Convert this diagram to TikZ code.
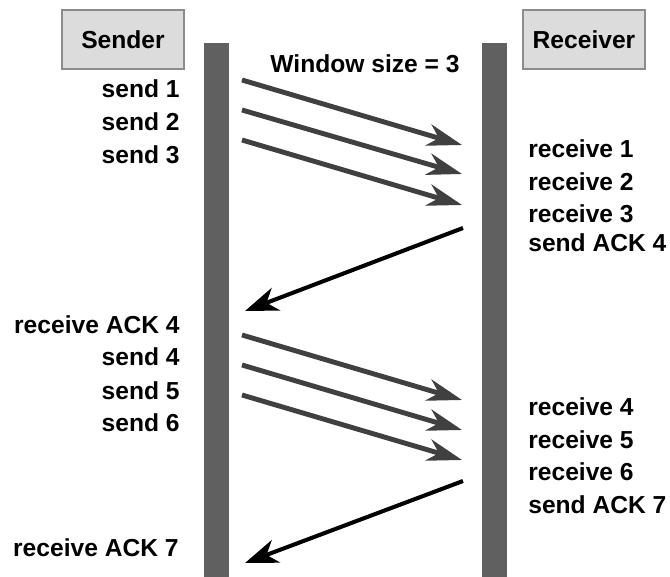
\documentclass[tikz,border=0pt]{standalone}
\usepackage{fontspec}
\setmainfont{Liberation Sans}
\usetikzlibrary{positioning,arrows.meta}
\definecolor{barfill}{RGB}{96,96,96}
\definecolor{boxfill}{RGB}{220,220,220}
\definecolor{boxline}{RGB}{140,140,140}
\definecolor{msggray}{RGB}{64,64,64}

\begin{document}
\begin{tikzpicture}[x=0.2mm,y=-0.2mm,
  hostbox/.style={rectangle,draw=boxline,fill=boxfill,line width=1pt,
    font=\bfseries\fontsize{14}{16}\selectfont,minimum width=2.44cm,minimum height=1.18cm},
  lifebar/.style={rectangle,fill=barfill,minimum width=0.5cm,minimum height=10.68cm,inner sep=0pt},
  lbl/.style={font=\bfseries\fontsize{14}{16}\selectfont,inner sep=0pt},
  msg/.style={-{Stealth[length=7mm,width=4.4mm,inset=2.2mm]},msggray,line width=2.8pt},
  ack/.style={-{Stealth[length=6.6mm,width=4.8mm,inset=2mm]},black,line width=2.3pt}
]
\useasboundingbox (0,0) rectangle (670,577);

% hosts and their time lines
\node[hostbox] (sender) at (123,39.5) {Sender};
\node[hostbox] (receiver) at (584,39.5) {Receiver};
\node[lifebar] (sbar) at (216.5,310) {};
\node[lifebar] (rbar) at (494.5,310) {};
\node[lbl] (window) at (365,64) {Window size = 3};

% sender side labels
\node[lbl,anchor=east] (s1) at (180,89) {send 1};
\node[lbl,anchor=east] (s2) at (180,122) {send 2};
\node[lbl,anchor=east] (s3) at (180,155) {send 3};
\node[lbl,anchor=east] (rack4) at (180,325) {receive ACK 4};
\node[lbl,anchor=east] (s4) at (180,357) {send 4};
\node[lbl,anchor=east] (s5) at (180,391) {send 5};
\node[lbl,anchor=east] (s6) at (180,423) {send 6};
\node[lbl,anchor=east] (rack7) at (179,548) {receive ACK 7};

% receiver side labels
\node[lbl,anchor=west] (r1) at (528,149) {receive 1};
\node[lbl,anchor=west] (r2) at (528,182) {receive 2};
\node[lbl,anchor=west] (r3) at (528,214) {receive 3};
\node[lbl,anchor=west] (sack4) at (528,243) {send ACK 4};
\node[lbl,anchor=west] (r4) at (528,407) {receive 4};
\node[lbl,anchor=west] (r5) at (528,440) {receive 5};
\node[lbl,anchor=west] (r6) at (528,472) {receive 6};
\node[lbl,anchor=west] (sack7) at (528,505) {send ACK 7};

% message end points
\foreach \i/\ys/\yr in {1/80/145,2/110/174,3/140/205,4/335/400,5/365/430,6/395/460}{
  \coordinate (out\i) at (242,\ys);
  \coordinate (in\i) at (462,\yr);
}
\coordinate (ackout4) at (463,228);
\coordinate (ackin4) at (245,311);
\coordinate (ackout7) at (463,481);
\coordinate (ackin7) at (245,563);

% data segments
\foreach \i in {1,...,6}
  \draw[msg] (out\i) -- (in\i);

% acknowledgements
\draw[ack] (ackout4) -- (ackin4);
\draw[ack] (ackout7) -- (ackin7);

\end{tikzpicture}
\end{document}
